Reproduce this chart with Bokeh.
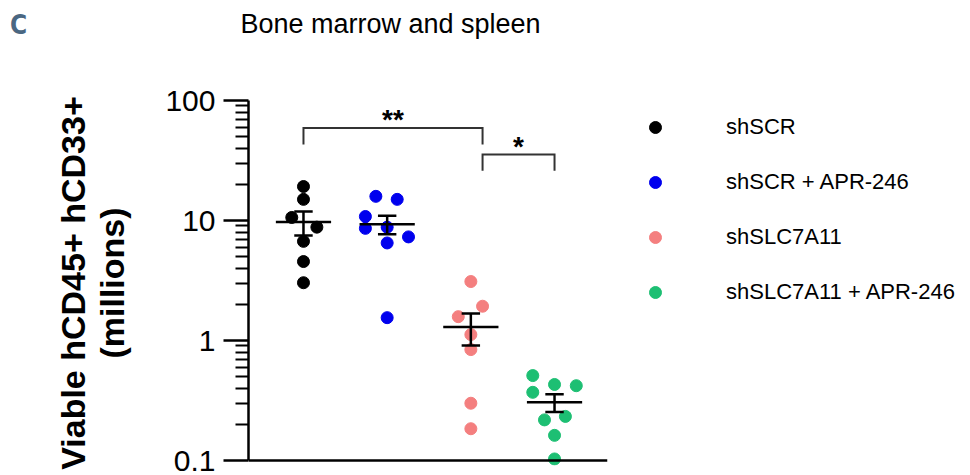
import numpy as np
from bokeh.plotting import figure
from bokeh.models import (Range1d, FixedTicker, CustomJSTickFormatter, Legend,
                          LegendItem, Label, Span)
from bokeh.core.properties import value
from bokeh.embed import file_html
from bokeh.resources import INLINE

# ---------------- data ----------------
groups = ["shSCR", "shSCR + APR-246", "shSLC7A11", "shSLC7A11 + APR-246"]
colors = ["#000000", "#0000ee", "#f47f7f", "#1dbf73"]

shSCR = [19.2, 15.0, 10.6, 8.8, 6.7, 4.55, 3.03]
shSCR_jitter = [0, 0, -0.14, 0.16, 0, 0, 0]
shSCR_APR = [15.9, 15.0, 10.8, 8.6, 8.8, 7.3, 6.5, 1.55]
shSCR_APR_jitter = [-0.135, 0.12, -0.26, -0.26, 0, 0.255, 0, 0]
shSLC = [3.1, 1.93, 1.58, 1.12, 0.84, 0.30, 0.184]
shSLC_jitter = [0, 0.14, -0.15, 0, 0, 0, 0]
shSLC_APR = [0.51, 0.43, 0.42, 0.37, 0.218, 0.233, 0.162, 0.103]
shSLC_APR_jitter = [-0.26, 0, 0.26, -0.26, -0.12, 0.13, 0, 0]

series = [shSCR, shSCR_APR, shSLC, shSLC_APR]
jitters = [shSCR_jitter, shSCR_APR_jitter, shSLC_jitter, shSLC_APR_jitter]

y_ticks = [0.1, 1, 10, 100]
y_tick_labels = ["0.1", "1", "10", "100"]
y_minor = [0.2, 0.3, 0.4, 0.5, 0.6, 0.7, 0.8, 0.9,
           2, 3, 4, 5, 6, 7, 8, 9,
           20, 30, 40, 50, 60, 70, 80, 90]

# significance brackets: (label, x_left, x_right, y_top, y_leg_end)
brackets = [("**", 1.0, 3.14, 59.0, 43.0), ("*", 3.14, 4.0, 35.5, 26.0)]

FONT = "Liberation Sans"

# ---------------- figure ----------------
y_lo = 10 ** (-1 - 5 / 120)   # a few px of room below 0.1 so the lowest dot is not cut
p = figure(frame_width=359, frame_height=365, output_backend="svg", toolbar_location=None,
           y_axis_type="log", x_range=Range1d(0.343, 4.633), y_range=Range1d(y_lo, 100),
           min_border_left=248, min_border_right=353, min_border_top=100,
           min_border_bottom=10)
p.outline_line_color = None
p.grid.visible = False
p.background_fill_color = "white"
p.border_fill_color = "white"
p.xaxis.visible = False

# baseline at 0.1
p.add_layout(Span(location=0.1, dimension="width", line_color="black", line_width=2.5))

# y axis
ya = p.yaxis[0]
ya.bounds = (0.1, 100)
ya.ticker = FixedTicker(ticks=y_ticks, minor_ticks=y_minor)
ya.formatter = CustomJSTickFormatter(
    args=dict(tvals=y_ticks, tlabels=y_tick_labels),
    code="const i = tvals.indexOf(tick); return i >= 0 ? tlabels[i] : String(tick);")
ya.axis_line_width = 2.5
ya.major_tick_line_width = 2.5
ya.minor_tick_line_width = 2
ya.major_tick_out = 25
ya.major_tick_in = 0
ya.minor_tick_out = 13
ya.minor_tick_in = 0
ya.major_label_standoff = 8
ya.major_label_text_font = FONT
ya.major_label_text_font_size = "30px"
ya.major_label_text_color = "black"
ya.axis_label = "Viable hCD45+ hCD33+\n(millions)"
ya.axis_label_text_font = FONT
ya.axis_label_text_font_style = "bold"
ya.axis_label_text_font_size = "34px"
ya.axis_label_text_line_height = 1.05
ya.axis_label_text_color = "black"
ya.axis_label_standoff = 31

# points
renderers = []
for i, (vals, jit, col) in enumerate(zip(series, jitters, colors)):
    xs = [i + 1 + j for j in jit]
    r = p.scatter(xs, vals, size=12, fill_color=col, line_color=col)
    renderers.append(r)

# mean +/- SEM
for i, vals in enumerate(series):
    v = np.array(vals)
    m = v.mean()
    sem = v.std(ddof=1) / np.sqrt(len(v))
    x = i + 1
    p.segment(x0=[x - 0.33, x, x - 0.11, x - 0.11],
              y0=[m, m - sem, m + sem, m - sem],
              x1=[x + 0.33, x, x + 0.11, x + 0.11],
              y1=[m, m + sem, m + sem, m - sem],
              line_color="black", line_width=2.5)

# brackets
for lab, xl, xr, yt, yb in brackets:
    p.line([xl, xl, xr, xr], [yb, yt, yt, yb], line_color="#333333",
           line_width=2, line_join="miter")
    p.text(x=[(xl + xr) / 2], y=[yt], text=[lab], text_align="center",
           text_baseline="alphabetic", text_font=value(FONT), text_font_style="bold",
           text_font_size="28px", text_color="black", y_offset=-8)

# title and panel letter (placed in the top panel so they are not clipped)
p.add_layout(Label(x=2.04, y=430, text="Bone marrow and spleen", text_align="center",
                   text_baseline="middle", text_font=FONT, text_font_size="27px",
                   text_color="black"), "above")
p.add_layout(Label(x=-2.405, y=422, text="C", text_align="center",
                   text_baseline="middle",
                   text_font="'Liberation Sans Narrow', 'DejaVu Sans Condensed', sans-serif",
                   text_font_style="bold", text_font_size="26px", text_color="#4a6782"),
             "above")

# legend
legend = Legend(items=[LegendItem(label=g, renderers=[r]) for g, r in zip(groups, renderers)],
                location="top_left", margin=12, padding=12, spacing=25,
                glyph_width=72, glyph_height=30, label_standoff=35,
                label_text_font=FONT, label_text_font_size="22px", label_text_color="black",
                border_line_color=None, background_fill_alpha=0)
p.add_layout(legend, "right")

open("out.html", "w").write(file_html(p, INLINE))
